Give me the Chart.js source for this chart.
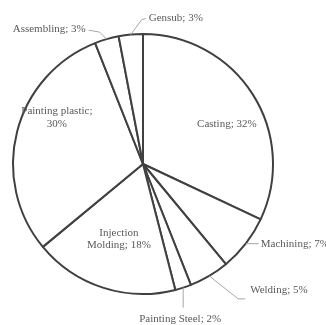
<!DOCTYPE html>
<html lang="en">
<head>
  <meta charset="UTF-8">
  <title>Share by process</title>
  <script src="https://cdn.jsdelivr.net/npm/chart.js@4"></script>
  <style>
    body { margin: 0; background: #fff; }
    canvas { display: block; }
  </style>
</head>
<body>
  <canvas id="pie" width="326" height="325"></canvas>
  <script>
    // data, clockwise from 12 o'clock
    const categories = ['Casting', 'Machining', 'Welding', 'Painting Steel',
      'Injection Molding', 'Painting plastic', 'Assembling', 'Gensub'];
    const shares = [32, 7, 5, 2, 18, 30, 3, 3];
    const labelLines = [
      ['Casting; 32%'],
      ['Machining; 7%'],
      ['Welding; 5%'],
      ['Painting Steel; 2%'],
      ['Injection', 'Molding; 18%'],
      ['Painting plastic;', '30%'],
      ['Assembling; 3%'],
      ['Gensub; 3%']
    ];

    // where each label sits: inside (radial factor + nudge) or via a leader line from the rim
    const labelPlacement = [
      { f: 0.7, dx: 7, dy: 9 },
      { leader: [[0, 0], [13, 0]], tx: 2, ty: 0, align: 'left' },
      { leader: [[0, 0], [29, 23], [36, 23]], tx: 5, ty: -9, align: 'left' },
      { leader: [[0, 0], [0, 20]], tx: -3, ty: 11, align: 'center' },
      { f: 0.6, dx: 0, dy: 1 },
      { f: 0.7, dx: 2, dy: -24 },
      { leader: [[0, 0], [-7, -7], [-18, -9]], tx: -3, ty: -1, align: 'right' },
      { leader: [[0, 0], [11, -15], [15, -16]], tx: 3, ty: 0, align: 'left' }
    ];

    const pieLabels = {
      id: 'pieLabels',
      afterDatasetsDraw(chart) {
        const ctx = chart.ctx;
        const arcs = chart.getDatasetMeta(0).data;
        ctx.save();
        ctx.font = '11px "Liberation Serif", "Times New Roman", serif';
        ctx.fillStyle = '#595959';
        ctx.textBaseline = 'middle';
        arcs.forEach((arc, i) => {
          const p = labelPlacement[i];
          const mid = (arc.startAngle + arc.endAngle) / 2;
          const lines = labelLines[i];
          const lh = 12.5;
          if (p.leader) {
            const ex = arc.x + Math.cos(mid) * arc.outerRadius;
            const ey = arc.y + Math.sin(mid) * arc.outerRadius;
            ctx.strokeStyle = '#a6a6a6';
            ctx.lineWidth = 1;
            ctx.beginPath();
            p.leader.forEach(([lx, ly], k) => {
              if (k === 0) ctx.moveTo(ex + lx, ey + ly);
              else ctx.lineTo(ex + lx, ey + ly);
            });
            ctx.stroke();
            const last = p.leader[p.leader.length - 1];
            ctx.textAlign = p.align;
            ctx.fillText(lines[0], ex + last[0] + p.tx, ey + last[1] + p.ty);
          } else {
            const r = arc.outerRadius * p.f;
            const cx = arc.x + Math.cos(mid) * r + p.dx;
            const cy = arc.y + Math.sin(mid) * r + p.dy;
            ctx.textAlign = 'center';
            lines.forEach((t, k) => {
              ctx.fillText(t, cx, cy + (k - (lines.length - 1) / 2) * lh);
            });
          }
        });
        ctx.restore();
      }
    };

    new Chart(document.getElementById('pie').getContext('2d'), {
      type: 'pie',
      data: {
        labels: categories,
        datasets: [{
          data: shares,
          backgroundColor: '#ffffff',
          borderColor: '#404040',
          borderWidth: 2
        }]
      },
      options: {
        responsive: false,
        animation: false,
        layout: { padding: { left: 12, right: 52, top: 33, bottom: 30 } },
        plugins: {
          legend: { display: false },
          tooltip: { enabled: false }
        }
      },
      plugins: [pieLabels]
    });
  </script>
</body>
</html>
